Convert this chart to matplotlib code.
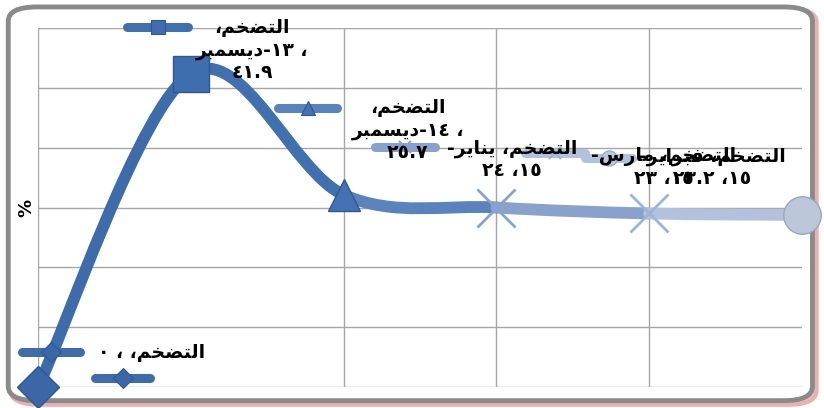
import numpy as np
import matplotlib.pyplot as plt
from matplotlib.path import Path
from matplotlib.patches import PathPatch, FancyBboxPatch

# data
series_name = "التضخم"
categories = ["", "ديسمبر-١٣", "ديسمبر-١٤", "يناير-١٥", "فبراير-١٥", "مارس-١٥"]
values = [0, 41.9, 25.7, 24, 23.2, 23]
seg_colors = ["#3E6CAB", "#4170AF", "#5A83BE", "#88A2CD", "#B3C2DC"]
point_colors = ["#3B67A6", "#3F6EAE", "#4472B4", "#86A2CF", "#9DB3D8", "#BCC7DA"]
point_markers = ["D", "s", "^", "x", "x", "o"]

# simple arabic shaping (presentation forms) + visual order
FORMS = {
    'ا': ('\ufe8d', '\ufe8e', None, None),
    'ب': ('\ufe8f', '\ufe90', '\ufe91', '\ufe92'),
    'ت': ('\ufe95', '\ufe96', '\ufe97', '\ufe98'),
    'خ': ('\ufea5', '\ufea6', '\ufea7', '\ufea8'),
    'د': ('\ufea9', '\ufeaa', None, None),
    'ر': ('\ufead', '\ufeae', None, None),
    'س': ('\ufeb1', '\ufeb2', '\ufeb3', '\ufeb4'),
    'ض': ('\ufebd', '\ufebe', '\ufebf', '\ufec0'),
    'ف': ('\ufed1', '\ufed2', '\ufed3', '\ufed4'),
    'ل': ('\ufedd', '\ufede', '\ufedf', '\ufee0'),
    'م': ('\ufee1', '\ufee2', '\ufee3', '\ufee4'),
    'ن': ('\ufee5', '\ufee6', '\ufee7', '\ufee8'),
    'ي': ('\ufef1', '\ufef2', '\ufef3', '\ufef4'),
}
NOJOIN = set('ادر')


def ar(word):
    out = []
    for i, ch in enumerate(word):
        f = FORMS.get(ch)
        if f is None:
            out.append(ch)
            continue
        prev = word[i - 1] if i > 0 else None
        nxt = word[i + 1] if i < len(word) - 1 else None
        jp = prev in FORMS and prev not in NOJOIN
        jn = nxt in FORMS and ch not in NOJOIN
        if jp and jn:
            out.append(f[3])
        elif jp:
            out.append(f[1])
        elif jn:
            out.append(f[2])
        else:
            out.append(f[0])
    return "".join(reversed(out))


def num(v):
    s = ("%g" % v)
    return s.translate(str.maketrans("0123456789", "٠١٢٣٤٥٦٧٨٩"))


fig = plt.figure(figsize=(8.24, 4.08), dpi=100)
fig.patch.set_facecolor("white")

# frame with pink shadow
fig.patches.append(FancyBboxPatch((0.013, 0.008), 0.978, 0.972, boxstyle="round,pad=0,rounding_size=0.035",
                                  transform=fig.transFigure, facecolor="#f2c4c4", edgecolor="#eab0b0", lw=3, zorder=-3))
fig.patches.append(FancyBboxPatch((0.010, 0.018), 0.976, 0.965, boxstyle="round,pad=0,rounding_size=0.035",
                                  transform=fig.transFigure, facecolor="white", edgecolor="#8a8a8a", lw=3.5, zorder=-2))

ax = fig.add_axes([38 / 824, 1 - 387 / 408, 764 / 824, 359 / 408])
ax.set_facecolor("none")
x = np.arange(len(values))
y = np.array(values, dtype=float)
ax.set_xlim(0, len(values) - 1)
ax.set_ylim(0, 48)
ax.set_yticks(np.arange(0, 49, 8))
ax.set_xticks([0, 2, 3, 4])
ax.grid(True, color="#a6a6a6", lw=1)
ax.tick_params(length=0, labelleft=False, labelbottom=False)
for s in ax.spines.values():
    s.set_visible(False)
ax.set_ylabel("%", fontsize=13, fontweight="bold", labelpad=2)

# smoothed line (excel style bezier), one segment per color
pts = np.column_stack([x, y])
n = len(pts)
for i in range(n - 1):
    p0 = pts[max(i - 1, 0)]
    p1 = pts[i]
    p2 = pts[i + 1]
    p3 = pts[min(i + 2, n - 1)]
    c1 = p1 + (p2 - p0) / 6
    c2 = p2 - (p3 - p1) / 6
    path = Path([p1, c1, c2, p2], [Path.MOVETO, Path.CURVE4, Path.CURVE4, Path.CURVE4])
    ax.add_patch(PathPatch(path, facecolor="none", edgecolor=seg_colors[i], lw=8.5,
                           capstyle="round", clip_on=False, zorder=3))

sizes = [21, 26, 23, 27, 27, 27]
for i in range(n):
    m = point_markers[i]
    if m == "x":
        ax.plot(x[i], y[i], marker="x", ms=sizes[i], mew=2, color=point_colors[i], clip_on=False, zorder=4)
    else:
        ax.plot(x[i], y[i], marker=m, ms=sizes[i], color=point_colors[i], mec="#2F5790" if i < 3 else "#98A6BE",
                mew=1, clip_on=False, zorder=4)


def fx(px):
    return (px - 38) / 764


def fy(py):
    return (387 - py) / 359


# legend keys beside labels
keys = [(0, 22, 80, 352), (0, 95, 150, 378), (1, 127, 188, 27), (2, 278, 337, 108),
        (3, 375, 435, 147), (4, 525, 585, 153), (5, 585, 632, 158)]
for i, a, b, py in keys:
    ax.plot([fx(a), fx(b)], [fy(py), fy(py)], transform=ax.transAxes, color=seg_colors[min(i, 4)],
            lw=6.5, solid_capstyle="round", clip_on=False, zorder=5)
    mk = point_markers[i]
    if mk == "x":
        ax.plot(fx((a + b) / 2), fy(py), transform=ax.transAxes, marker="x", ms=8, mew=1.5,
                color=point_colors[i], clip_on=False, zorder=6)
    else:
        ax.plot(fx((a + b) / 2), fy(py), transform=ax.transAxes, marker=mk, ms=10 if mk != "o" else 11,
                color=point_colors[i], mec="#2F5790" if i < 3 else "#98A6BE", mew=0.8, clip_on=False, zorder=6)

# data labels
txt = dict(fontsize=13.5, fontweight="bold", color="black", ha="center", va="center",
           transform=ax.transAxes, zorder=7, linespacing=1.2, family=["DejaVu Sans"])
lines = []
for i in range(n):
    cat = categories[i]
    if i == 0:
        lines.append(num(values[i]) + " ، " + ar(series_name + "،"))
        continue
    month, year = cat.split("-")
    if i in (1, 2):
        lines.append(ar(series_name + "،") + "\n" + ar(month) + "-" + year + " ،\n" + num(values[i]))
    else:
        lines.append("-" + ar(month) + " " + ar(series_name + "،") + "\n" + num(values[i]) + " ،" + year)

label_pos = [(152, 352), (252, 50), (408, 130), (512, 159), (712, 168), (664, 168)]
for i in range(n):
    px, py = label_pos[i]
    ax.text(fx(px), fy(py), lines[i], **txt)

fig.savefig("out.png", dpi=100)
